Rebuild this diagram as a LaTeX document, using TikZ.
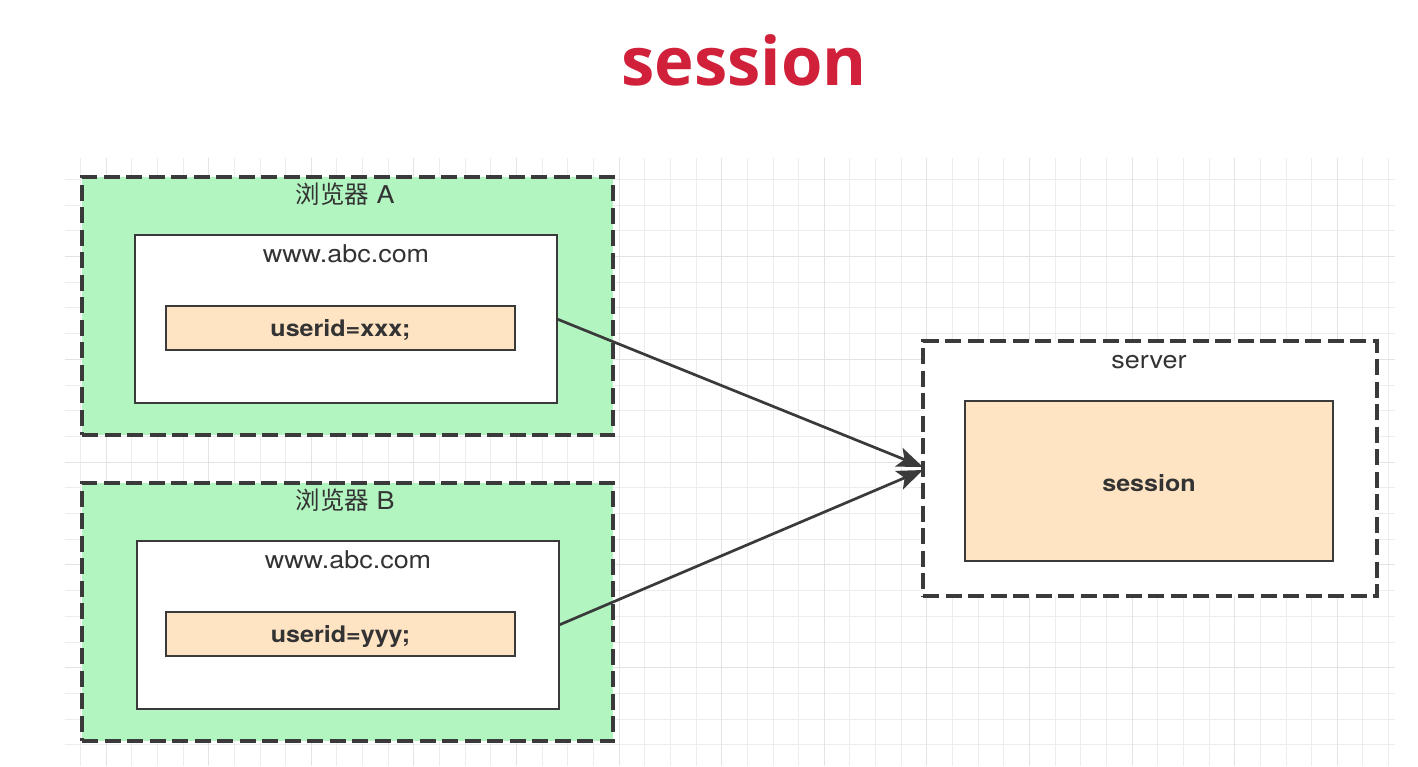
\documentclass[tikz,border=0pt]{standalone}
\usepackage{fontspec}
\setmainfont{TeX Gyre Heros}[FakeStretch=1.1]
\newfontfamily\cjk{Noto Sans CJK SC}
\newfontfamily\titlefont{Open Sans}
\usetikzlibrary{arrows.meta}
\definecolor{bd}{HTML}{3A3A3A}
\definecolor{txt}{HTML}{333333}
\definecolor{grn}{RGB}{178,245,193}
\definecolor{pch}{RGB}{255,228,196}
\definecolor{ttl}{RGB}{208,32,58}
\definecolor{gminor}{HTML}{EDEDED}
\definecolor{gmajor}{HTML}{E3E3E3}
\begin{document}
\begin{tikzpicture}[x=1pt,y=-1pt,
  every node/.style={inner sep=0pt, outer sep=0pt},
  lbl/.style={font=\fontsize{24.5}{28}\selectfont, text=txt, anchor=base},
  blbl/.style={font=\fontsize{22.8}{26}\selectfont\bfseries, text=txt, anchor=base},
  grp/.style={draw=bd, line width=3.5pt, dash pattern=on 16pt off 6.5pt, rectangle},
  boxw/.style={draw=bd, line width=2.7pt, rectangle},
  arr/.style={draw=bd, line width=2.7pt, -{Stealth[length=26pt,width=20pt,inset=6pt]}},
]
\fill[white] (0,0) rectangle (1418,766);
\useasboundingbox (0,0) rectangle (1418,766);
% grid
\foreach \k in {0,...,51} {
  \pgfmathsetmacro\xx{round(80+\k*25.65)+0.5}
  \draw[gminor, line width=1pt] (\xx,158) -- (\xx,766);
}
\foreach \j in {0,...,22} {
  \pgfmathsetmacro\yy{round(179+\j*25.7)+0.5}
  \draw[gminor, line width=1pt] (65,\yy) -- (1395,\yy);
}
\foreach \k in {1,5,...,49} {
  \pgfmathsetmacro\xx{round(80+\k*25.65)+0.5}
  \draw[gmajor, line width=1pt] (\xx,158) -- (\xx,766);
}
\foreach \j in {3,7,...,19} {
  \pgfmathsetmacro\yy{round(179+\j*25.7)+0.5}
  \draw[gmajor, line width=1pt] (65,\yy) -- (1395,\yy);
}
% title
\node[font=\titlefont\bfseries\fontsize{67}{70}\selectfont, text=ttl, anchor=base] (title) at (744,85) {session};
% browser A
\node[grp, fill=grn, minimum width=531pt, minimum height=258pt] (bA) at (347.5,306) {};
\node[lbl] (bAl) at (345,203) {{\cjk 浏览器} A};
\node[boxw, fill=white, minimum width=422pt, minimum height=168pt] (wA) at (346,319) {};
\node[lbl] (wAl) at (346,262) {www.abc.com};
\node[boxw, fill=pch, minimum width=349pt, minimum height=44pt] (oA) at (340.5,328) {};
\node[blbl] (oAl) at (340.5,336.5) {userid=xxx;};
% browser B
\node[grp, fill=grn, minimum width=531pt, minimum height=258pt] (bB) at (347.5,612) {};
\node[lbl] (bBl) at (345,509) {{\cjk 浏览器} B};
\node[boxw, fill=white, minimum width=422pt, minimum height=168pt] (wB) at (348,625) {};
\node[lbl] (wBl) at (348,568) {www.abc.com};
\node[boxw, fill=pch, minimum width=349pt, minimum height=44pt] (oB) at (340.5,634) {};
\node[blbl] (oBl) at (340.5,642.5) {userid=yyy;};
% server
\node[grp, fill=white, minimum width=454pt, minimum height=255pt] (srv) at (1150,468.5) {};
\node[lbl] (srvl) at (1149,368) {server};
\node[boxw, fill=pch, minimum width=368pt, minimum height=160pt] (ses) at (1149,481) {};
\node[blbl] (sesl) at (1149,491) {session};
% arrows
\draw[arr] (wA.east) -- ([yshift=1.5pt]srv.west);
\draw[arr] (wB.east) -- ([yshift=-1.5pt]srv.west);
\end{tikzpicture}
\end{document}
